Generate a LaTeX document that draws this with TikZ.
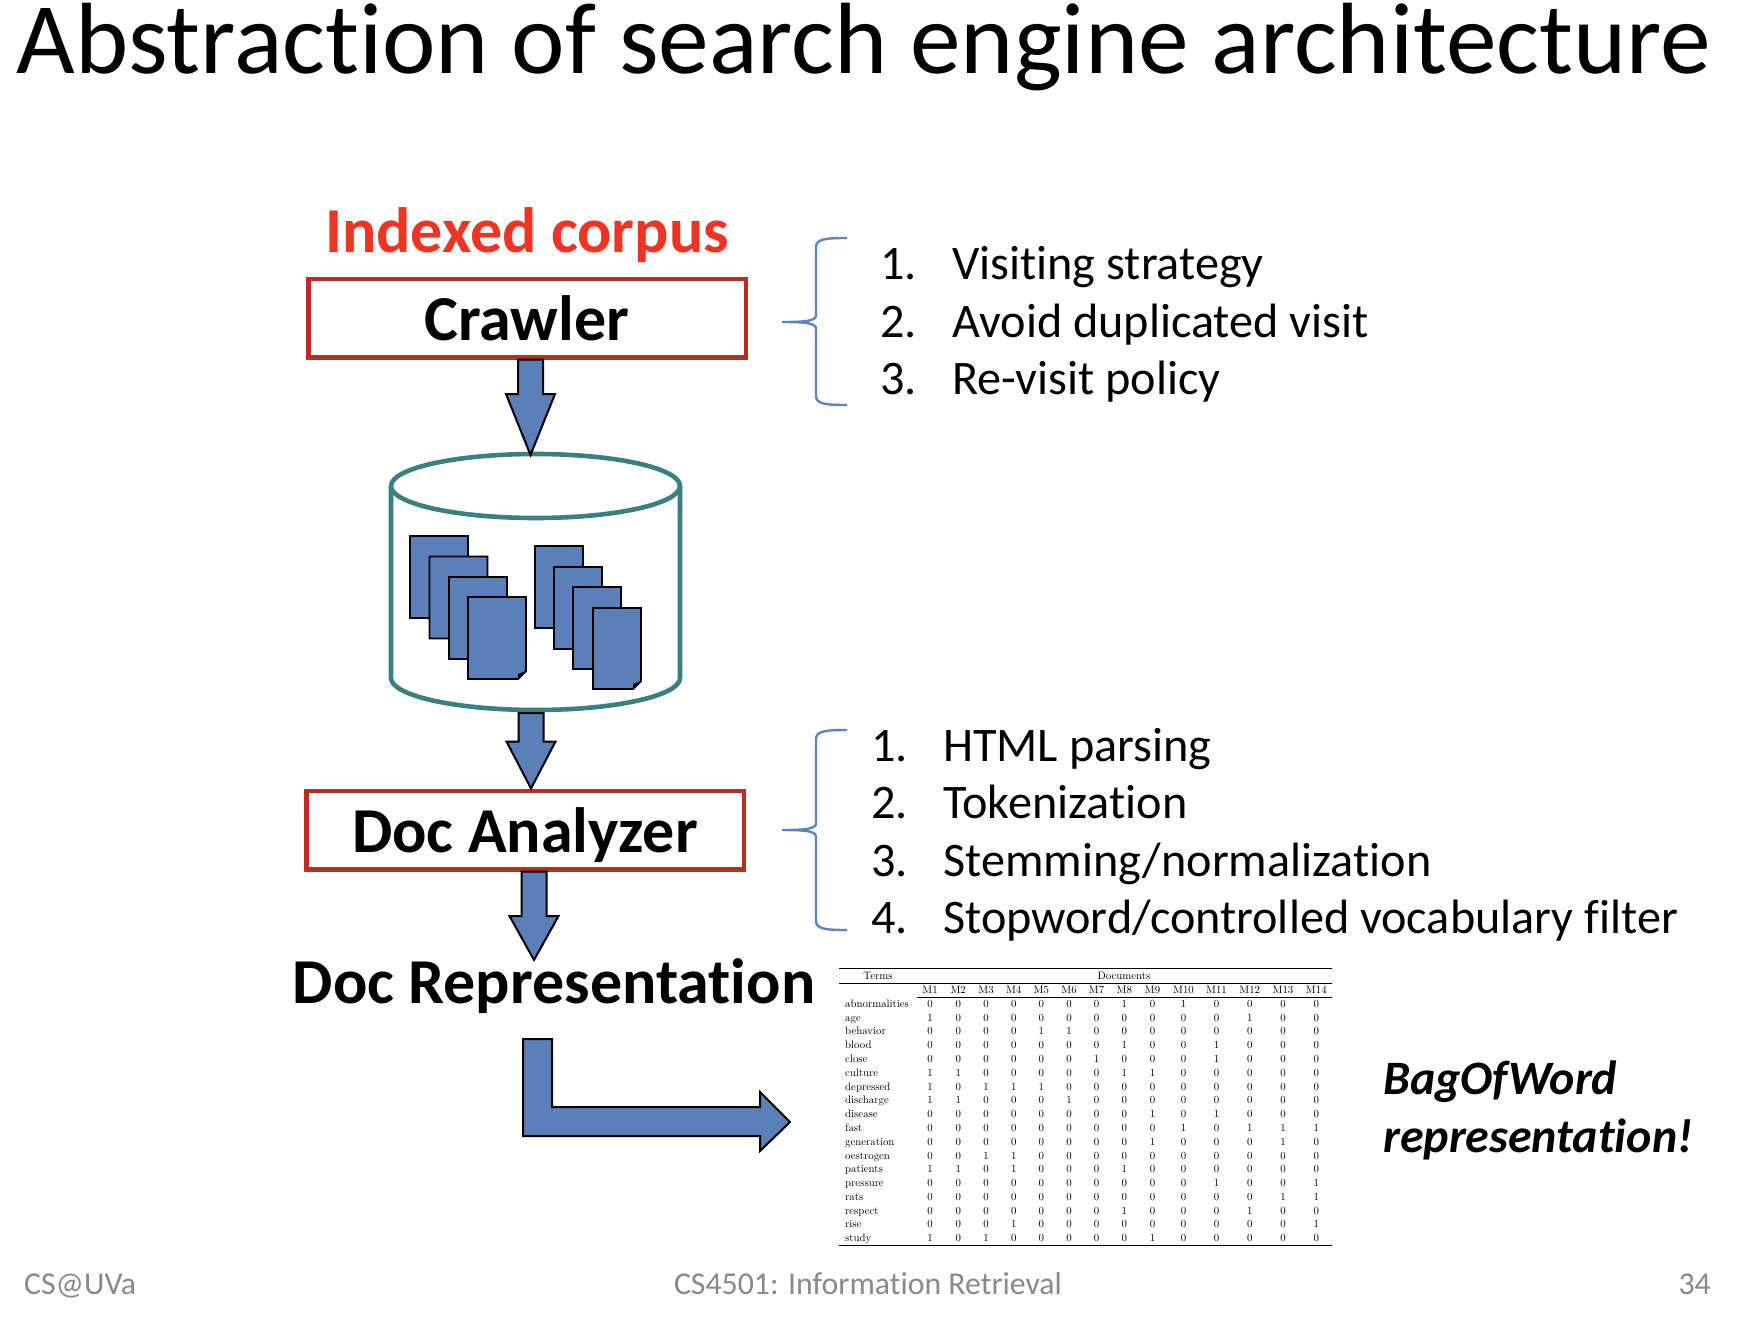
\documentclass[tikz,border=0pt]{standalone}
\usepackage{fontspec}
\usetikzlibrary{calc}
\setmainfont[Ligatures=NoCommon]{Carlito}
\newfontfamily\lmfont{Latin Modern Roman}
\definecolor{arrowblue}{HTML}{5B7FB8}
\definecolor{boxred}{HTML}{B92D24}
\definecolor{titlered}{HTML}{EE3524}
\definecolor{dbteal}{HTML}{3A8080}
\definecolor{bracecol}{HTML}{5F84BF}
\definecolor{footgray}{HTML}{898989}
\tikzset{
  redbox/.style={draw=boxred,line width=4.5pt,minimum width=437.5pt,minimum height=78.5pt,inner sep=0pt,text depth=0pt,font=\fontsize{64}{64}\selectfont\bfseries},
  blockarrow/.style={draw=black,line width=2pt,fill=arrowblue,line join=miter},
  dbline/.style={draw=dbteal,line width=4.6pt},
  pagestyle/.style={draw=black,line width=1.8pt,fill=arrowblue},
  bracestyle/.style={draw=bracecol,line width=2.4pt},
  listtext/.style={anchor=base west,inner sep=0pt,font=\fontsize{48.2}{48.2}\selectfont},
  cell/.style={inner sep=0pt,font=\lmfont\fontsize{10.8}{10.8}\selectfont,anchor=base},
  termcell/.style={inner sep=0pt,font=\lmfont\fontsize{10.8}{10.8}\selectfont,anchor=base west},
  rulestyle/.style={draw=black,line width=1pt},
  foot/.style={inner sep=0pt,text=footgray,font=\fontsize{31.8}{31.8}\selectfont},
}
\newcommand{\blockdown}[3]{% start, tip, head length
  \draw[blockarrow] let \p1=(#1),\p2=(#2) in
    (\x1-12.5,\y1) -- (\x1+12.5,\y1) -- (\x1+12.5,\y2+#3) -- (\x2+24.5,\y2+#3) -- (\x2,\y2)
    -- (\x2-24.5,\y2+#3) -- (\x1-12.5,\y2+#3) -- cycle;}
\newcommand{\docpage}[4]{% x y w h
  \draw[pagestyle] (#1,#2) -- ++(#3,0) -- ++(0,#4-8) -- ++(-8,8) -- ++(8-#3,0) -- cycle;
  \fill[black] (#1+#3,#2+#4-8) -- ++(-8,8) -- ++(0,-5) -- cycle;}
\def\colxs{{930,958.2,986,1013.7,1041.3,1069,1096.6,1124.3,1152.5,1183.5,1216.5,1249.7,1283,1316.3}}
\newcommand{\tablerow}[3]{% row, term, bits
  \pgfmathsetmacro\ry{1007.3+13.79*(#1-1)}
  \node[termcell] (t#1) at (845,\ry) {#2};
  \foreach \v [count=\c] in {#3} {
    \pgfmathsetmacro\cx{\colxs[\c-1]}
    \node[cell] (v#1m\c) at (\cx,\ry) {\v};
  }}
\begin{document}
\begin{tikzpicture}[x=1pt,y=-1pt]
\useasboundingbox (0,0) rectangle (1752,1332);
\fill[white] (0,0) rectangle (1752,1332);
% title
\node[anchor=base,inner sep=0pt,font=\fontsize{101.3}{101.3}\selectfont] (title) at (864,74) {Abstraction of search engine architecture};
\node[anchor=base,inner sep=0pt,text=titlered,font=\fontsize{64}{64}\selectfont\bfseries] (corpus) at (527,253) {Indexed corpus};
% boxes
\node[redbox] (crawler) at (527,318) {Crawler};
\node[redbox] (analyzer) at (525,830) {Doc Analyzer};
\node[anchor=base,inner sep=0pt,font=\fontsize{64}{64}\selectfont\bfseries] (rep) at (554,1003) {Doc Representation};
% cylinder
\coordinate (dbtop) at (535,455);
\coordinate (dbbot) at (535,710);
\draw[dbline] (391,486) arc[start angle=180,end angle=0,x radius=144.5,y radius=32]
  arc[start angle=0,end angle=-180,x radius=144.5,y radius=32];
\draw[dbline] (391,486) -- (391,678) arc[start angle=180,end angle=0,x radius=144.5,y radius=32] -- (680,486);
% pages
\docpage{410}{536}{58}{82}
\docpage{429.5}{556.5}{58}{82}
\docpage{449}{577}{58}{82}
\docpage{468}{597}{58}{82}
\docpage{535}{546}{48}{82}
\docpage{554}{567}{48}{82}
\docpage{573}{587}{48}{82}
\docpage{593}{608}{48}{81}
% block arrows
\coordinate (a1s) at ([xshift=3.5pt]crawler.south);
\coordinate (a1t) at ([xshift=-4.5pt]dbtop);
\coordinate (a2s) at ([xshift=-4pt,yshift=-3pt]dbbot);
\coordinate (a2t) at ([xshift=6pt]analyzer.north);
\coordinate (a3s) at ([xshift=9pt]analyzer.south);
\coordinate (a3t) at (534,960);
\blockdown{a1s}{a1t}{61}
\blockdown{a2s}{a2t}{47}
\blockdown{a3s}{a3t}{44}
\coordinate (benttip) at (790,1122);
\draw[blockarrow] (523,1039) -- (552,1039) -- (552,1107) -- (760,1107) -- (760,1092) -- (benttip)
  -- (760,1151) -- (760,1136) -- (523,1136) -- cycle;
% braces
\draw[bracestyle] (847,238) .. controls (826,238) and (816,239) .. (816,247) -- (816,315)
  .. controls (816,321) and (806,322) .. (782,322) .. controls (806,322) and (816,323) .. (816,329)
  -- (816,396) .. controls (816,404) and (826,405) .. (847,405);
\draw[bracestyle] (847,730) .. controls (826,730) and (816,731) .. (816,739) -- (816,823)
  .. controls (816,829) and (806,830) .. (782,830) .. controls (806,830) and (816,831) .. (816,837)
  -- (816,921) .. controls (816,929) and (826,930) .. (847,930);
% lists
\node[listtext] (l1n) at (880,279.5) {1.};
\node[listtext] (l1t) at (952,279.5) {Visiting strategy};
\node[listtext] (l2n) at (880,337) {2.};
\node[listtext] (l2t) at (952,337) {Avoid duplicated visit};
\node[listtext] (l3n) at (880,394.5) {3.};
\node[listtext] (l3t) at (952,394.5) {Re-visit policy};
\node[listtext] (m1n) at (871,761) {1.};
\node[listtext] (m1t) at (943,761) {HTML parsing};
\node[listtext] (m2n) at (871,818) {2.};
\node[listtext] (m2t) at (943,818) {Tokenization};
\node[listtext] (m3n) at (871,876) {3.};
\node[listtext] (m3t) at (943,876) {Stemming/normalization};
\node[listtext] (m4n) at (871,933) {4.};
\node[listtext] (m4t) at (943,933) {Stopword/controlled vocabulary filter};
% table
\coordinate (tl1) at (839,968); \coordinate (tr1) at (1332,968);
\coordinate (tl2) at (839,983); \coordinate (tr2) at (1332,983);
\coordinate (tl3) at (917,997); \coordinate (tr3) at (1332,997);
\coordinate (tl4) at (839,1245); \coordinate (tr4) at (1332,1245);
\draw[rulestyle] (tl1) -- (tr1);
\draw[rulestyle] (tl2) -- (tr2);
\draw[rulestyle] (tl3) -- (tr3);
\draw[rulestyle] (tl4) -- (tr4);
\node[cell] (hterms) at (878,979) {Terms};
\node[cell] (hdocs) at (1124,979) {Documents};
\foreach \h [count=\c] in {M1,M2,M3,M4,M5,M6,M7,M8,M9,M10,M11,M12,M13,M14} {
  \pgfmathsetmacro\cx{\colxs[\c-1]}
  \node[cell] (h\c) at (\cx,993) {\h};
}
\tablerow{1}{abnormalities}{0,0,0,0,0,0,0,1,0,1,0,0,0,0}
\tablerow{2}{age}{1,0,0,0,0,0,0,0,0,0,0,1,0,0}
\tablerow{3}{behavior}{0,0,0,0,1,1,0,0,0,0,0,0,0,0}
\tablerow{4}{blood}{0,0,0,0,0,0,0,1,0,0,1,0,0,0}
\tablerow{5}{close}{0,0,0,0,0,0,1,0,0,0,1,0,0,0}
\tablerow{6}{culture}{1,1,0,0,0,0,0,1,1,0,0,0,0,0}
\tablerow{7}{depressed}{1,0,1,1,1,0,0,0,0,0,0,0,0,0}
\tablerow{8}{discharge}{1,1,0,0,0,1,0,0,0,0,0,0,0,0}
\tablerow{9}{disease}{0,0,0,0,0,0,0,0,1,0,1,0,0,0}
\tablerow{10}{fast}{0,0,0,0,0,0,0,0,0,1,0,1,1,1}
\tablerow{11}{generation}{0,0,0,0,0,0,0,0,1,0,0,0,1,0}
\tablerow{12}{oestrogen}{0,0,1,1,0,0,0,0,0,0,0,0,0,0}
\tablerow{13}{patients}{1,1,0,1,0,0,0,1,0,0,0,0,0,0}
\tablerow{14}{pressure}{0,0,0,0,0,0,0,0,0,0,1,0,0,1}
\tablerow{15}{rats}{0,0,0,0,0,0,0,0,0,0,0,0,1,1}
\tablerow{16}{respect}{0,0,0,0,0,0,0,1,0,0,0,1,0,0}
\tablerow{17}{rise}{0,0,0,1,0,0,0,0,0,0,0,0,0,1}
\tablerow{18}{study}{1,0,1,0,0,0,0,0,1,0,0,0,0,0}
% bag of word
\node[anchor=base west,inner sep=0pt,font=\fontsize{48}{48}\selectfont\bfseries\itshape] (bag1) at (1383,1094) {BagOfWord};
\node[anchor=base west,inner sep=0pt,font=\fontsize{48}{48}\selectfont\bfseries\itshape] (bag2) at (1383,1152) {representation!};
% footer
\node[foot,anchor=base west] (f1) at (24,1294) {CS@UVa};
\node[foot,anchor=base] (f2) at (868,1294) {CS4501: Information Retrieval};
\node[foot,anchor=base east] (f3) at (1711,1294) {34};
\end{tikzpicture}
\end{document}
